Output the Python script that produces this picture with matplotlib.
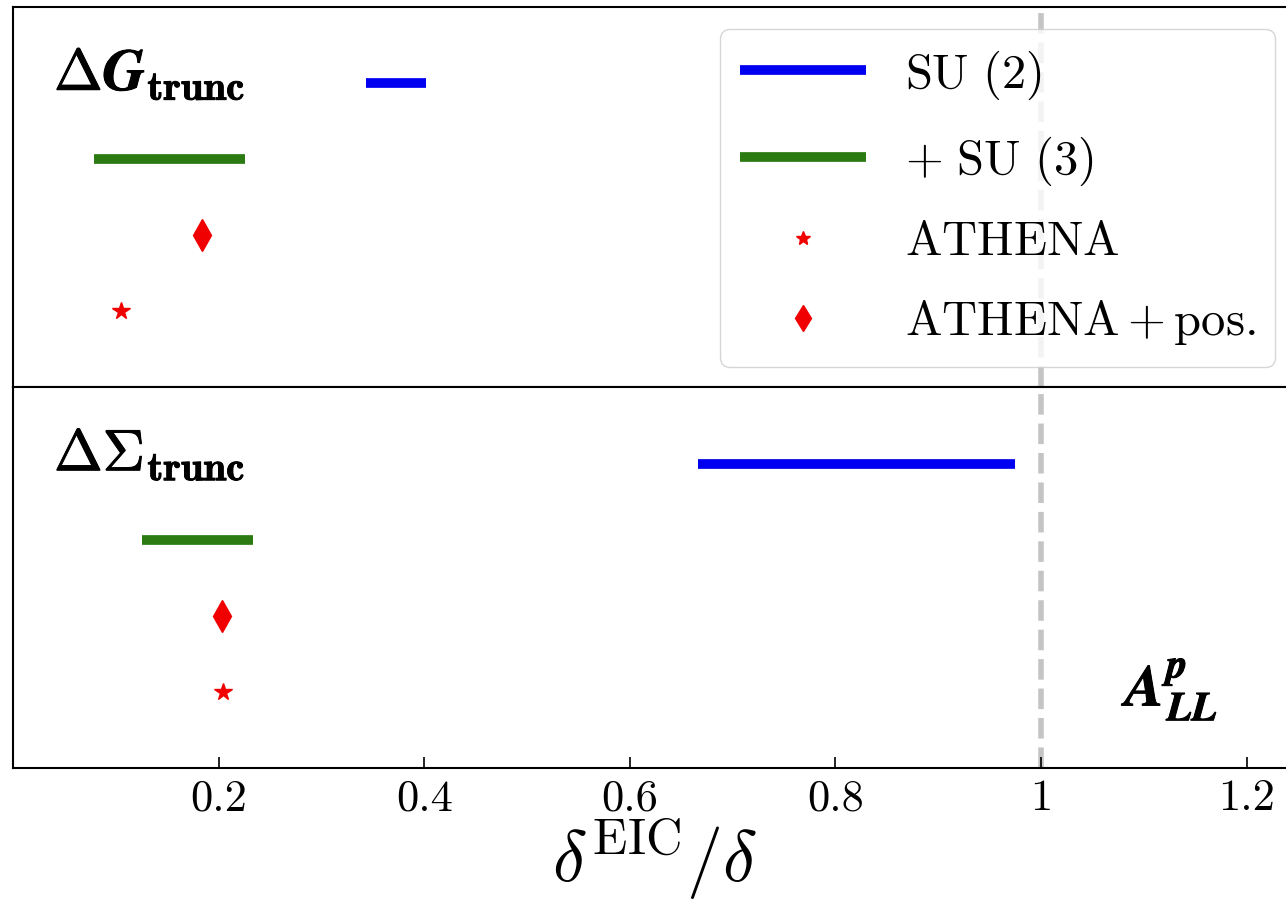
import numpy as np
import matplotlib
matplotlib.use('Agg')
import matplotlib.pyplot as plt
import matplotlib.patheffects as pe

plt.rcParams['mathtext.fontset'] = 'cm'
plt.rcParams['font.family'] = 'serif'
plt.rcParams['font.serif'] = ['cmr10', 'DejaVu Serif']
plt.rcParams['axes.unicode_minus'] = False

#%% Datos
# Filas: 4 -> SU(2), 3 -> + SU(3), 2 -> ATHENA + pos., 1 -> ATHENA
filas = [4, 3, 2, 1]
# Panel superior: Delta G truncado
dG_su2 = [0.343, 0.402]
dG_su3 = [0.079, 0.226]
dG_pos = 0.184
dG_athena = 0.105
# Panel inferior: Delta Sigma truncado
dS_su2 = [0.666, 0.975]
dS_su3 = [0.125, 0.233]
dS_pos = 0.203
dS_athena = 0.204

etiquetas_panel = [r'$\Delta\mathbfit{G}_{\mathbf{trunc}}$',
                   r'$\Delta\Sigma_{\mathbf{trunc}}$']
xticks = [0.2, 0.4, 0.6, 0.8, 1.0, 1.2]
xticklabels = ['0.2', '0.4', '0.6', '0.8', '1', '1.2']

azul = '#0000f0'
verde = '#2b7b12'
rojo = '#f00000'

negrita = [pe.withStroke(linewidth=0.7, foreground='black')]

fig, axs = plt.subplots(2, 1, sharex=True, figsize=(12.86, 9.13), dpi=100)
fig.subplots_adjust(left=13 / 1286, right=1297 / 1286,
                    top=1 - 7 / 913, bottom=1 - 768 / 913, hspace=0)

datos = [(dG_su2, dG_su3, dG_pos, dG_athena),
         (dS_su2, dS_su3, dS_pos, dS_athena)]

for i, ax in enumerate(axs):
    su2, su3, pos, ath = datos[i]
    ax.plot(su2, [filas[0]] * 2, color=azul, lw=7, solid_capstyle='butt',
            label=r'$\mathrm{SU}\ (2)$')
    ax.plot(su3, [filas[1]] * 2, color=verde, lw=7, solid_capstyle='butt',
            label=r'$+\ \mathrm{SU}\ (3)$')
    ax.plot([ath], [filas[3]], ls='none', marker='*', ms=13, color=rojo,
            label=r'$\mathrm{ATHENA}$')
    ax.plot([pos], [filas[2]], ls='none', marker='d', ms=16, color=rojo,
            label=r'$\mathrm{ATHENA} + \mathrm{pos.}$')
    ax.axvline(1.0, color='#c4c4c4', lw=4, ls='--', zorder=0)
    ax.set_ylim(0, 5)
    ax.set_yticks([])
    ax.text(0.04, 4.12, etiquetas_panel[i], fontsize=42, va='center',
            ha='left', path_effects=negrita)
    for s in ax.spines.values():
        s.set_linewidth(1.5)

axs[0].tick_params(axis='x', bottom=False)
axs[1].text(1.082, 1.03, r'$\mathbfit{A}_{\mathbfit{LL}}^{\mathbfit{p}}$',
            fontsize=42, va='center', ha='left', path_effects=negrita)

axs[1].set_xlim(0, 1.249)
axs[1].set_xticks(xticks)
axs[1].set_xticklabels(xticklabels)
axs[1].tick_params(axis='x', direction='in', length=8, width=1.2,
                   labelsize=32, pad=8)
axs[1].set_xlabel(r'$\delta^{\rm EIC}/\delta$', fontsize=52, labelpad=-2)

axs[0].legend(loc='upper right', fontsize=35, handlelength=2.6,
              borderaxespad=0.45, labelspacing=0.68, markerscale=0.8)

fig.savefig('out.png', dpi=100)
